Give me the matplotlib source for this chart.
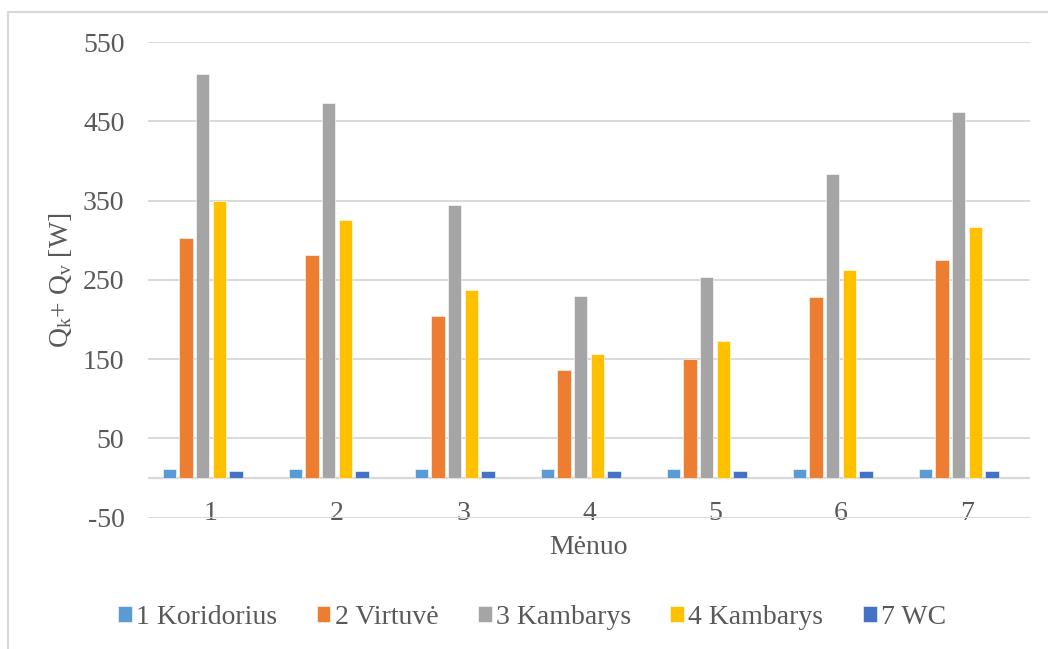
import matplotlib.pyplot as plt
import numpy as np
from matplotlib.patches import Rectangle

plt.rcParams['font.family'] = ['Liberation Serif', 'DejaVu Serif']
plt.rcParams['mathtext.fontset'] = 'custom'
plt.rcParams['mathtext.rm'] = 'Liberation Serif'
plt.rcParams['mathtext.it'] = 'Liberation Serif:italic'
plt.rcParams['axes.unicode_minus'] = False

# Q_k + Q_v per room, by month
menuo = [1, 2, 3, 4, 5, 6, 7]
koridorius = [11, 11, 11, 11, 11, 11, 11]
virtuve = [303, 281, 204, 136, 150, 228, 275]
kambarys3 = [510, 473, 345, 229, 253, 384, 462]
kambarys4 = [350, 325, 237, 157, 173, 263, 317]
wc = [9, 9, 9, 9, 9, 9, 9]

serijos = [koridorius, virtuve, kambarys3, kambarys4, wc]
pavadinimai = ['1 Koridorius', '2 Virtuvė', '3 Kambarys', '4 Kambarys', '7 WC']
spalvos = ['#5B9BD5', '#ED7D31', '#A5A5A5', '#FFC000', '#4472C4']
tekstas = '#595959'
tinklas = '#D9D9D9'

fig = plt.figure(figsize=(10.48, 6.49), dpi=100)
ax = fig.add_axes([148/1048, 1-517.7/649, (1030-148)/1048, (517.7-42)/649])

x = np.arange(len(menuo)) + 1
slot = 0.1325
plotis = 0.106
for i, (s, vardas, c) in enumerate(zip(serijos, pavadinimai, spalvos)):
    ax.bar(x + (i - 2.5) * slot, s, width=plotis, color=c, label=vardas,
           edgecolor='white', linewidth=0.4, zorder=3)

ax.set_xlim(0.5, 7.5)
ax.set_ylim(-50, 550)
ax.set_yticks(np.arange(-50, 551, 100))
ax.set_xticks(x)
ax.set_xticklabels([str(m) for m in menuo])
ax.grid(axis='y', color=tinklas, linewidth=1.4, zorder=0)
ax.axhline(0, color=tinklas, linewidth=1.6, zorder=2)
for sp in ax.spines.values():
    sp.set_visible(False)
ax.tick_params(axis='both', length=0, labelsize=20, colors=tekstas)
ax.tick_params(axis='y', pad=17)
ax.tick_params(axis='x', pad=-12)

ax.set_ylabel(r'Q$_\mathregular{k}$+ Q$_\mathregular{v}$ [W]', fontsize=20, color=tekstas)
ax.yaxis.set_label_coords((61 - 148) / 882, 0.5)
ax.yaxis.label.set_va('center')
fig.text(588/1048, 1-547/649, 'Mėnuo', fontsize=20, color=tekstas, ha='center', va='center')

fig.legend(loc='center', bbox_to_anchor=(532/1048, 1-617/649), ncol=5, frameon=False,
           fontsize=20, labelcolor=tekstas, handlelength=0.5, handleheight=0.5,
           handletextpad=0.15, columnspacing=1.42)

# outer chart frame
fig.patches.append(Rectangle((8/1048, -0.2), 1.2, 1.2 - 12/649, transform=fig.transFigure,
                             fill=False, edgecolor=tinklas, linewidth=1.5))

fig.savefig('out.png', dpi=100)
